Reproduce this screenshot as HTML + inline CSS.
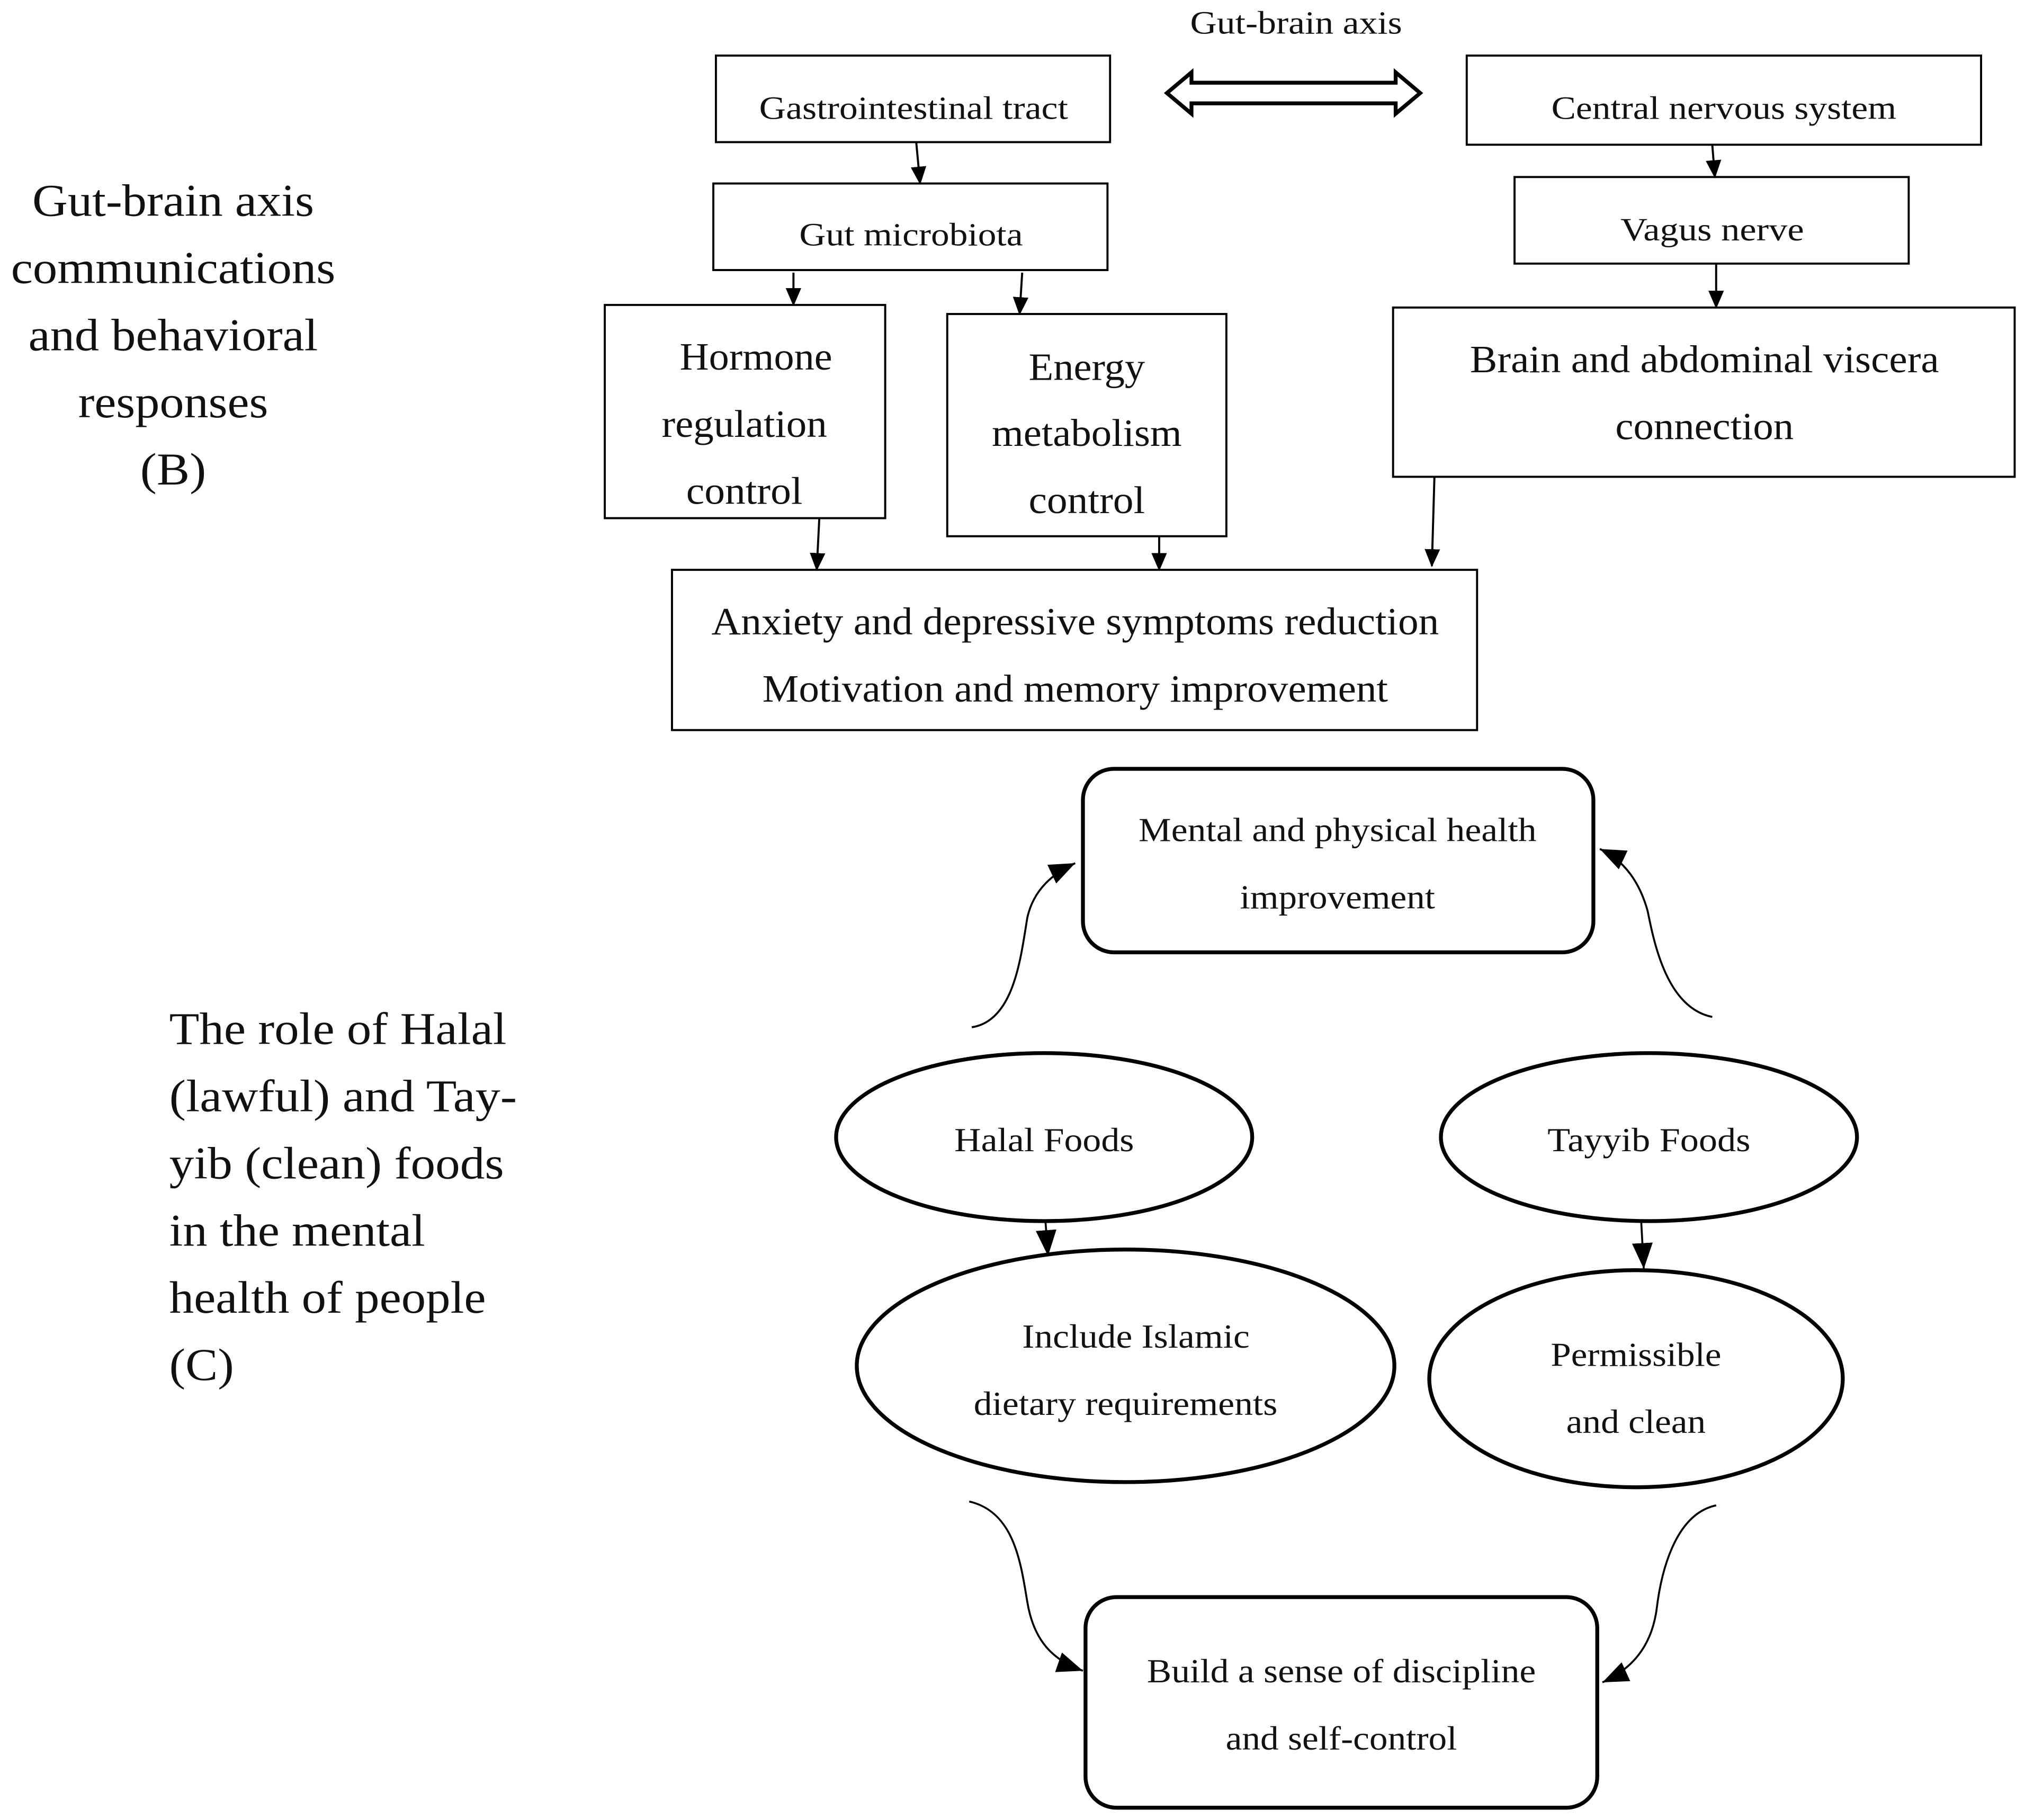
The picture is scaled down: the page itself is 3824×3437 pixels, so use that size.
<!DOCTYPE html>
<html><head><meta charset="utf-8"><style>
html,body{margin:0;padding:0;background:#fff;}
svg{display:block;}
text{font-family:"Liberation Serif",serif;fill:#111;}
</style></head><body>
<svg width="3824" height="3437" viewBox="0 0 1567 1408.5" preserveAspectRatio="none" xmlns="http://www.w3.org/2000/svg">
<defs>
<marker id="a" markerUnits="userSpaceOnUse" markerWidth="14" markerHeight="16" refX="13" refY="6" orient="auto"><path d="M0,0 L14,6 L0,12 Z" fill="#000"/></marker>
<marker id="b" markerUnits="userSpaceOnUse" markerWidth="22" markerHeight="22" refX="20" refY="8" orient="auto"><path d="M0,0 L20,8 L0,16 Z" fill="#000"/></marker>
</defs>
<rect width="1567" height="1408.5" fill="#fff"/>
<g fill="none" stroke="#000" stroke-width="1.6">
<rect x="554" y="43" width="305" height="67"/>
<rect x="1135" y="43" width="398" height="69"/>
<rect x="552" y="142" width="305" height="67"/>
<rect x="1172" y="137" width="305" height="67"/>
<rect x="468" y="236" width="217" height="165"/>
<rect x="733" y="243" width="216" height="172"/>
<rect x="1078" y="238" width="481" height="131"/>
<rect x="520" y="441" width="623" height="124"/>
<path d="M903,72 L922,56 L922,64 L1080,64 L1080,56 L1099,72 L1080,88 L1080,80 L922,80 L922,88 Z" stroke-width="3"/>
<g marker-end="url(#a)">
<line x1="709" y1="110" x2="712" y2="142"/>
<line x1="1325" y1="112" x2="1327" y2="137"/>
<line x1="1328" y1="204" x2="1328" y2="238"/>
<line x1="614" y1="211" x2="614" y2="236"/>
<line x1="791" y1="211" x2="789" y2="243"/>
<line x1="634" y1="401" x2="632" y2="441"/>
<line x1="897" y1="415" x2="897" y2="441"/>
<line x1="1110" y1="369" x2="1108" y2="438"/>
</g>
</g>
<g fill="none" stroke="#000" stroke-width="3">
<rect x="838" y="595" width="395" height="142" rx="24"/>
<rect x="840" y="1236" width="396" height="163" rx="24"/>
<ellipse cx="808" cy="880" rx="161" ry="65"/>
<ellipse cx="1276" cy="880" rx="161" ry="65"/>
<ellipse cx="871" cy="1057" rx="208" ry="90"/>
<ellipse cx="1266" cy="1067" rx="160" ry="84"/>
</g>
<g fill="none" stroke="#000" stroke-width="1.5" marker-end="url(#b)">
<line x1="809" y1="945" x2="811" y2="972"/>
<line x1="1270" y1="945" x2="1272" y2="982"/>
<path d="M752,795 C785,790 790,740 795,710 C800,688 815,676 832,668"/>
<path d="M1325,787 C1290,780 1280,730 1275,705 C1268,680 1255,665 1238,657"/>
<path d="M750,1162 C785,1170 790,1210 795,1240 C800,1270 815,1285 838,1293"/>
<path d="M1328,1165 C1295,1172 1285,1220 1282,1245 C1278,1275 1262,1292 1240,1302"/>
</g>
<g font-size="25" text-anchor="middle" lengthAdjust="spacingAndGlyphs">
<text x="1003" y="26" textLength="164" lengthAdjust="spacingAndGlyphs">Gut-brain axis</text>
<text x="707" y="92" textLength="239" lengthAdjust="spacingAndGlyphs">Gastrointestinal tract</text>
<text x="1334" y="92" textLength="267" lengthAdjust="spacingAndGlyphs">Central nervous system</text>
<text x="705" y="190" textLength="173" lengthAdjust="spacingAndGlyphs">Gut microbiota</text>
<text x="1325" y="186" textLength="142" lengthAdjust="spacingAndGlyphs">Vagus nerve</text>
</g>
<g font-size="30" text-anchor="middle">
<text x="585" y="286" textLength="118" lengthAdjust="spacingAndGlyphs">Hormone</text>
<text x="576" y="338" textLength="128" lengthAdjust="spacingAndGlyphs">regulation</text>
<text x="576" y="390" textLength="90" lengthAdjust="spacingAndGlyphs">control</text>
<text x="841" y="294" textLength="90" lengthAdjust="spacingAndGlyphs">Energy</text>
<text x="841" y="345" textLength="147" lengthAdjust="spacingAndGlyphs">metabolism</text>
<text x="841" y="397" textLength="90" lengthAdjust="spacingAndGlyphs">control</text>
<text x="1319" y="288" textLength="363" lengthAdjust="spacingAndGlyphs">Brain and abdominal viscera</text>
<text x="1319" y="340" textLength="138" lengthAdjust="spacingAndGlyphs">connection</text>
<text x="832" y="491" textLength="563" lengthAdjust="spacingAndGlyphs">Anxiety and depressive symptoms reduction</text>
<text x="832" y="543" textLength="484" lengthAdjust="spacingAndGlyphs">Motivation and memory improvement</text>
</g>
<g font-size="26" text-anchor="middle">
<text x="1035" y="651" textLength="308" lengthAdjust="spacingAndGlyphs">Mental and physical health</text>
<text x="1035" y="703" textLength="151" lengthAdjust="spacingAndGlyphs">improvement</text>
<text x="808" y="891" textLength="139" lengthAdjust="spacingAndGlyphs">Halal Foods</text>
<text x="1276" y="891" textLength="157" lengthAdjust="spacingAndGlyphs">Tayyib Foods</text>
<text x="879" y="1043" textLength="176" lengthAdjust="spacingAndGlyphs">Include Islamic</text>
<text x="871" y="1095" textLength="235" lengthAdjust="spacingAndGlyphs">dietary requirements</text>
<text x="1266" y="1057" textLength="132" lengthAdjust="spacingAndGlyphs">Permissible</text>
<text x="1266" y="1109" textLength="108" lengthAdjust="spacingAndGlyphs">and clean</text>
<text x="1038" y="1302" textLength="301" lengthAdjust="spacingAndGlyphs">Build a sense of discipline</text>
<text x="1038" y="1354" textLength="179" lengthAdjust="spacingAndGlyphs">and self-control</text>
</g>
<g font-size="35" text-anchor="middle">
<text x="134" y="167" textLength="218" lengthAdjust="spacingAndGlyphs">Gut-brain axis</text>
<text x="134" y="219" textLength="251" lengthAdjust="spacingAndGlyphs">communications</text>
<text x="134" y="271" textLength="224" lengthAdjust="spacingAndGlyphs">and behavioral</text>
<text x="134" y="323" textLength="147" lengthAdjust="spacingAndGlyphs">responses</text>
<text x="134" y="375" textLength="51" lengthAdjust="spacingAndGlyphs">(B)</text>
</g>
<g font-size="35">
<text x="131" y="808" textLength="261" lengthAdjust="spacingAndGlyphs">The role of Halal</text>
<text x="131" y="860" textLength="269" lengthAdjust="spacingAndGlyphs">(lawful) and Tay-</text>
<text x="131" y="912" textLength="259" lengthAdjust="spacingAndGlyphs">yib (clean) foods</text>
<text x="131" y="964" textLength="198" lengthAdjust="spacingAndGlyphs">in the mental</text>
<text x="131" y="1016" textLength="245" lengthAdjust="spacingAndGlyphs">health of people</text>
<text x="131" y="1068" textLength="50" lengthAdjust="spacingAndGlyphs">(C)</text>
</g>
</svg>
</body></html>
